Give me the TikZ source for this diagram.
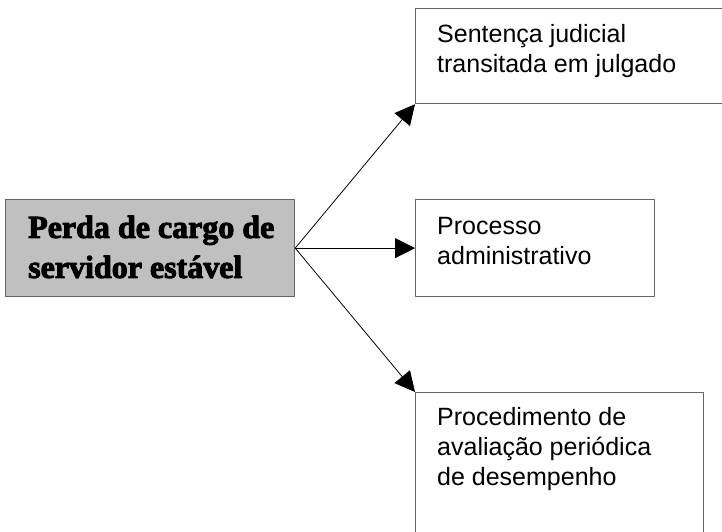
\documentclass[tikz,border=0pt]{standalone}
\usepackage{fontspec}
\setmainfont{Liberation Serif}
\setsansfont{Liberation Sans}
\newfontfamily\pesada{Liberation Serif}[BoldFeatures={FakeBold=3}]
\usetikzlibrary{arrows.meta}
\definecolor{fundocinza}{RGB}{192,192,192}
\definecolor{bordacinza}{RGB}{100,100,100}

\begin{document}
\begin{tikzpicture}[x=1pt,y=-1pt,line cap=round,line join=round,
    caixa/.style={draw=bordacinza,line width=1.2pt,rectangle,inner sep=0pt,anchor=north west},
    texto/.style={anchor=north west,inner sep=0pt,align=left,font=\sffamily\fontsize{25}{30}\selectfont},
    titulo/.style={anchor=north west,inner sep=0pt,align=left,font=\pesada\bfseries\fontsize{32}{40}\selectfont},
    seta/.style={line width=0.8pt,-{Triangle[length=20pt,width=20pt]}}]
    \useasboundingbox (0,0) rectangle (722,531);

    % Caixa principal
    \node[caixa,fill=fundocinza,minimum width=289pt,minimum height=97pt] (perda) at (5,199) {};
    \node[titulo] (perdatxt) at (28,215.5) {Perda de cargo de\\servidor estável};

    % Caixas das hipóteses
    \node[caixa,minimum width=330pt,minimum height=95pt] (sentenca) at (415,8) {};
    \node[caixa,minimum width=239pt,minimum height=97pt] (processo) at (415,199) {};
    \node[caixa,minimum width=288pt,minimum height=160pt] (avaliacao) at (415,392) {};

    \node[texto] (sentencatxt) at (437,24) {Sentença judicial\\transitada em julgado};
    \node[texto] (processotxt) at (437,217) {Processo\\administrativo};
    \node[texto] (avaliacaotxt) at (437,407) {Procedimento de\\avaliação periódica\\de desempenho};

    % Setas
    \draw[seta] (perda.east) -- (sentenca.south west);
    \draw[seta] (perda.east) -- (processo.west);
    \draw[seta] (perda.east) -- (avaliacao.north west);
\end{tikzpicture}
\end{document}
